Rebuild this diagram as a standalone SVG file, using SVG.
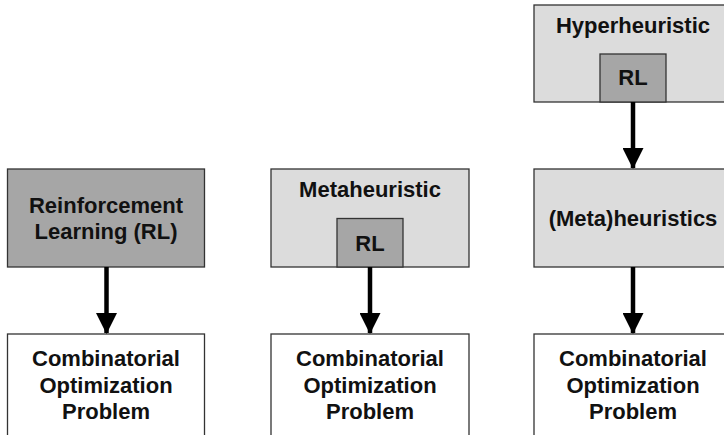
<svg xmlns="http://www.w3.org/2000/svg" width="724" height="435" viewBox="0 0 724 435">
<style>
.dark{fill:#a6a6a6;stroke:#333;stroke-width:1.3}
.light{fill:#dcdcdc;stroke:#333;stroke-width:1.3}
.white{fill:#fff;stroke:#333;stroke-width:1.3}
text{font-family:"Liberation Sans",Arial,sans-serif;font-weight:bold;font-size:22px;fill:#111;text-anchor:middle}
.conn line{stroke:#000;stroke-width:4.5}
</style>
<defs>
<marker id="ah" markerUnits="userSpaceOnUse" markerWidth="22" markerHeight="21" refX="21" refY="11" orient="auto" viewBox="0 0 22 22">
<path d="M0,0 L22,11 L0,22 Z" fill="#000"/>
</marker>
</defs>
<rect width="724" height="435" fill="#fff"/>
<g id="rl-left">
<rect class="dark" x="7.5" y="169" width="197" height="98"/>
<text x="106" y="213">Reinforcement</text>
<text x="106" y="239">Learning (RL)</text>
</g>
<g id="meta">
<rect class="light" x="271" y="169" width="198" height="98"/>
<text x="370" y="197">Metaheuristic</text>
</g>
<g id="meta-rl">
<rect class="dark" x="337" y="218.5" width="66" height="48.5"/>
<text x="370" y="251">RL</text>
</g>
<g id="hyper">
<rect class="light" x="534" y="5" width="200" height="97"/>
<text x="633" y="33">Hyperheuristic</text>
</g>
<g id="hyper-rl">
<rect class="dark" x="600" y="54" width="66" height="48"/>
<text x="633" y="85">RL</text>
</g>
<g id="metaheuristics">
<rect class="light" x="534" y="169" width="200" height="98"/>
<text x="633" y="226">(Meta)heuristics</text>
</g>
<g id="cop-left">
<rect class="white" x="7.5" y="334" width="197" height="110"/>
<text x="106" y="366">Combinatorial</text>
<text x="106" y="392.5">Optimization</text>
<text x="106" y="419">Problem</text>
</g>
<g id="cop-mid">
<rect class="white" x="271" y="334" width="198" height="110"/>
<text x="370" y="366">Combinatorial</text>
<text x="370" y="392.5">Optimization</text>
<text x="370" y="419">Problem</text>
</g>
<g id="cop-right">
<rect class="white" x="534" y="334" width="200" height="110"/>
<text x="633" y="366">Combinatorial</text>
<text x="633" y="392.5">Optimization</text>
<text x="633" y="419">Problem</text>
</g>
<g class="conn" id="connectors">
<line x1="106.5" y1="267" x2="106.5" y2="333" marker-end="url(#ah)"/>
<line x1="370" y1="267" x2="370" y2="333" marker-end="url(#ah)"/>
<line x1="633" y1="267" x2="633" y2="333" marker-end="url(#ah)"/>
<line x1="633" y1="102" x2="633" y2="168" marker-end="url(#ah)"/>
</g>
</svg>
